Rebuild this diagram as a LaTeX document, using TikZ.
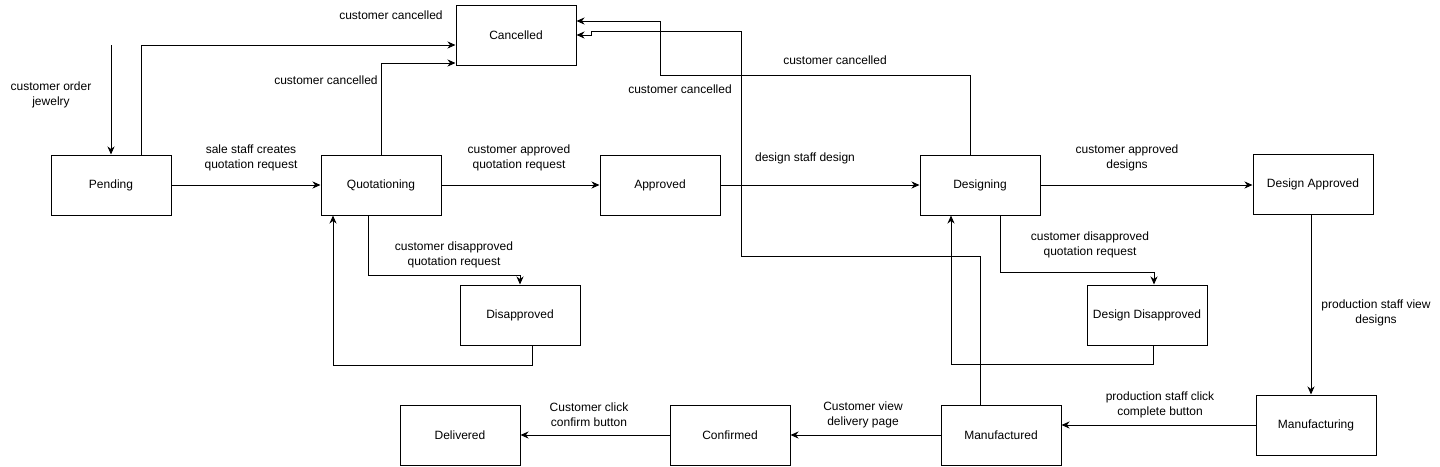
\documentclass[tikz,border=0pt]{standalone}
\usepackage{fontspec}
\setmainfont{Liberation Sans}
\usetikzlibrary{arrows.meta}
\begin{document}
\begin{tikzpicture}[x=1pt,y=-1pt,
  state/.style={draw,line width=1pt,minimum width=120pt,minimum height=60pt,inner sep=0pt,font=\fontsize{12}{15}\selectfont},
  lbl/.style={align=center,inner sep=0pt,font=\fontsize{12}{15}\selectfont},
  arr/.style={line width=1pt,-{Stealth[length=8pt,width=7pt,inset=2.5pt]}},
  ln/.style={line width=1pt}]
\useasboundingbox (0,0) rectangle (1440,466);
% states
\node[state] (pend) at (111,185) {Pending};
\node[state] (quot) at (381,185) {Quotationing};
\node[state] (canc) at (516,35) {Cancelled};
\node[state] (appr) at (660,185) {Approved};
\node[state] (des) at (980,185) {Designing};
\node[state] (dapp) at (1313,184) {Design Approved};
\node[state] (disap) at (520,315) {Disapproved};
\node[state] (ddis) at (1147,315) {Design Disapproved};
\node[state] (mfg) at (1316,425) {Manufacturing};
\node[state] (mfd) at (1001,435) {Manufactured};
\node[state] (conf) at (730,435) {Confirmed};
\node[state] (deliv) at (460,435) {Delivered};
\coordinate (start) at (111,45);
% labels
\node[lbl] (l1) at (51,95) {customer order\\jewelry};
\node[lbl] (l2) at (391,15) {customer cancelled};
\node[lbl] (l3) at (326,80) {customer cancelled};
\node[lbl] (l4) at (251,158) {sale staff creates\\quotation request};
\node[lbl] (l5) at (519,158) {customer approved\\quotation request};
\node[lbl] (l6) at (805,158) {design staff design};
\node[lbl] (l7) at (835,60) {customer cancelled};
\node[lbl] (l8) at (680,89) {customer cancelled};
\node[lbl] (l9) at (1127,158) {customer approved\\designs};
\node[lbl] (l10) at (454,255) {customer disapproved\\quotation request};
\node[lbl] (l11) at (1090,245) {customer disapproved\\quotation request};
\node[lbl] (l12) at (1376,313) {production staff view\\designs};
\node[lbl] (l13) at (1160,405) {production staff click\\complete button};
\node[lbl] (l14) at (863,415) {Customer view\\delivery page};
\node[lbl] (l15) at (589,415) {Customer click\\confirm button};
% connectors
\draw[arr] (start) -- (pend.north);
\draw[arr] ([xshift=30pt]pend.north) |- ([yshift=-10pt]canc.west);
\draw[arr] (quot.north) |- ([yshift=-28pt]canc.west);
\draw[arr] (pend.east) -- (quot.west);
\draw[arr] (quot.east) -- (appr.west);
\draw[arr] (appr.east) -- (des.west);
\draw[arr] (des.east) -- (des.east -| dapp.west);
\draw[arr] ([xshift=-10pt]des.north) |- (660,75) |- ([yshift=14pt]canc.east);
\draw[arr] ([xshift=-21pt]mfd.north) |- (741,256) |- (591,31) |- (canc.east);
\draw[arr] ([xshift=-13pt]quot.south) |- (520,275) -- (disap.north);
\draw[arr] ([xshift=12pt]disap.south) -- ++(0,20) -| ([xshift=-48pt]quot.south);
\draw[arr] ([xshift=20pt]des.south) |- (1154,272) -- ([xshift=7pt]ddis.north);
\draw[arr] ([xshift=6pt]ddis.south) -- ++(0,19) -| ([xshift=-29pt]des.south);
\draw[arr] ([xshift=-2pt]dapp.south) -- ([xshift=-2pt]dapp.south |- mfg.north);
\draw[arr] (mfg.west) -- (mfg.west -| mfd.east);
\draw[arr] (mfd.west) -- (conf.east);
\draw[arr] (conf.west) -- (deliv.east);
\end{tikzpicture}
\end{document}
